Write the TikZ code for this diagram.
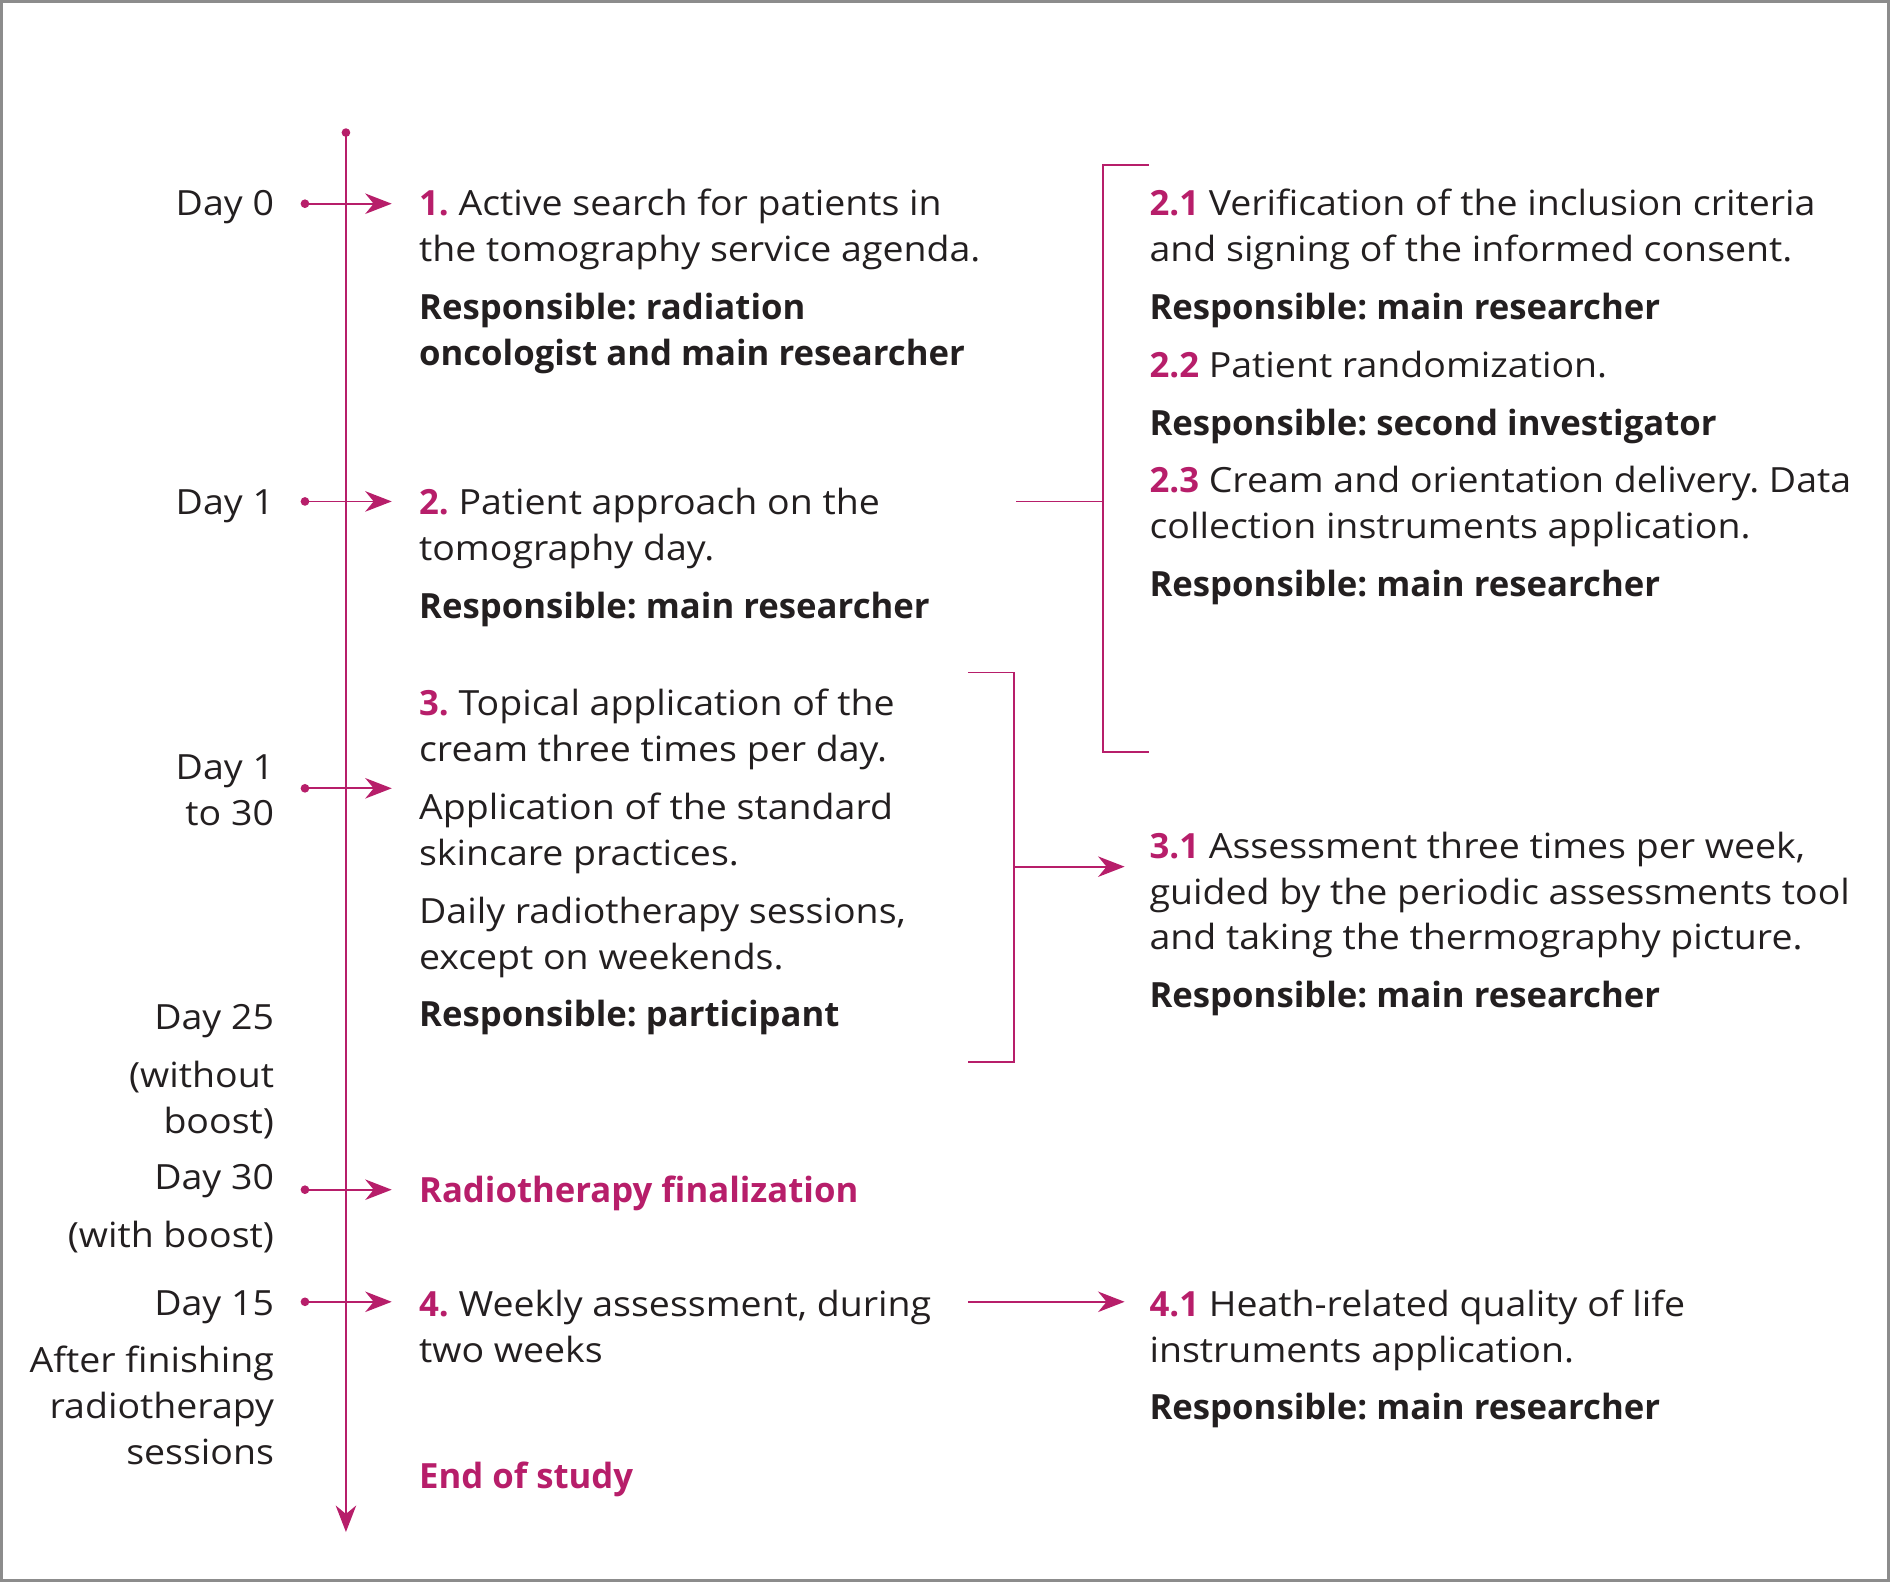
\documentclass[tikz,border=0pt]{standalone}
\usepackage{fontspec}
\setmainfont{Open Sans}[UprightFeatures={FakeStretch=1.08}]
\usetikzlibrary{arrows.meta}
\definecolor{pk}{RGB}{183,30,106}
\definecolor{ink}{RGB}{35,31,32}
\definecolor{framegray}{RGB}{140,140,140}
\frenchspacing
\newcommand\lnx[1]{\hbox{#1}}
\newcommand\gapx{\vskip5pt}
\newcommand\blk[1]{\vtop{\baselineskip=19pt\lineskiplimit=-20pt\lineskip=0pt #1}}
\newcommand\rblk[1]{\vtop{\baselineskip=19pt\lineskiplimit=-20pt\lineskip=0pt\halign{\hfil##\cr#1\crcr}}}
\newcommand\nm[1]{\textcolor{pk}{\textbf{#1}}}
\newcommand\rsp[1]{\textbf{Responsible: #1}}
\begin{document}
\begin{tikzpicture}[x=0.5pt,y=-0.5pt,line width=0.7pt,
  tip/.style={-{Stealth[length=11pt,width=8.5pt,inset=3.5pt]}},
  txt/.style={anchor=base west,inner sep=0pt,text=ink,font=\fontsize{14.4}{19}\selectfont\frenchspacing},
  lbl/.style={anchor=base east,inner sep=0pt,text=ink,font=\fontsize{14.4}{19}\selectfont\frenchspacing},
  dot/.style={circle,fill=pk,inner sep=0pt,minimum size=3.6pt},
  conn/.style={draw=pk}]
\useasboundingbox (0,0) rectangle (1568,1312);
\draw[framegray,line width=1.1pt] (1,1) rectangle (1567,1311);
% timeline
\node[dot] (top) at (287,110) {};
\coordinate (bot) at (287,1271);
\draw[conn,pk,tip] (top.center) -- (bot);
% side arrows
\foreach \nme/\yy in {a0/169,a1/416,a2/654,a3/987,a4/1080}{
  \node[dot] (d\nme) at (253,\yy) {};
  \coordinate (t\nme) at (325,\yy);
  \draw[conn,pk,tip] (d\nme.center) -- (t\nme);
}
% left labels
\node[lbl] (l0) at (228,179) {Day 0};
\node[lbl] (l1) at (228,427) {Day 1};
\node[lbl] (l130) at (228,647) {\rblk{Day 1\cr to 30}};
\node[lbl] (l25) at (228,854) {\rblk{Day 25\cr\noalign{\vskip5pt}(without\cr boost)}};
\node[lbl] (l30) at (228,987) {\rblk{Day 30\cr\noalign{\vskip5pt}(with boost)}};
\node[lbl] (l15) at (228,1091) {\rblk{Day 15\cr\noalign{\vskip5pt}After finishing\cr radiotherapy\cr sessions}};
% middle column
\node[txt] (n1) at (347,179) {\blk{\lnx{\nm{1.} Active search for patients in}\lnx{the tomography service agenda.}\gapx\lnx{\rsp{radiation}}\lnx{\textbf{oncologist and main researcher}}}};
\node[txt] (n2) at (347,427) {\blk{\lnx{\nm{2.} Patient approach on the}\lnx{tomography day.}\gapx\lnx{\rsp{main researcher}}}};
\node[txt] (n3) at (347,594) {\blk{\lnx{\nm{3.} Topical application of the}\lnx{cream three times per day.}\gapx\lnx{Application of the standard}\lnx{skincare practices.}\gapx\lnx{Daily radiotherapy sessions,}\lnx{except on weekends.}\gapx\lnx{\rsp{participant}}}};
\node[txt] (nrf) at (347,998) {\nm{Radiotherapy finalization}};
\node[txt] (n4) at (347,1092) {\blk{\lnx{\nm{4.} Weekly assessment, during}\lnx{two weeks}}};
\node[txt] (nend) at (347,1235) {\nm{End of study}};
% right column
\node[txt] (n21) at (953,179) {\blk{\lnx{\nm{2.1} Verification of the inclusion criteria}\lnx{and signing of the informed consent.}\gapx\lnx{\rsp{main researcher}}\gapx\lnx{\nm{2.2} Patient randomization.}\gapx\lnx{\rsp{second investigator}}\gapx\lnx{\nm{2.3} Cream and orientation delivery. Data}\lnx{collection instruments application.}\gapx\lnx{\rsp{main researcher}}}};
\node[txt] (n31) at (953,712) {\blk{\lnx{\nm{3.1} Assessment three times per week,}\lnx{guided by the periodic assessments tool}\lnx{and taking the thermography picture.}\gapx\lnx{\rsp{main researcher}}}};
\node[txt] (n41) at (953,1092) {\blk{\lnx{\nm{4.1} Heath-related quality of life}\lnx{instruments application.}\gapx\lnx{\rsp{main researcher}}}};
% bracket 1
\coordinate (b1a) at (953,137);
\coordinate (b1b) at (915,137);
\coordinate (b1c) at (915,624);
\coordinate (b1d) at (953,624);
\coordinate (b1m) at (843,416);
\draw[conn] (b1a) -- (b1b) -- (b1c) -- (b1d);
\draw[conn] (b1m) -- (b1m -| b1b);
% bracket 2
\coordinate (b2a) at (803,558);
\coordinate (b2b) at (841,558);
\coordinate (b2c) at (841,881);
\coordinate (b2d) at (803,881);
\coordinate (b2m) at (841,719);
\coordinate (b2t) at (933,719);
\draw[conn] (b2a) -- (b2b) -- (b2c) -- (b2d);
\draw[conn,tip] (b2m) -- (b2t);
% arrow 4
\coordinate (c4a) at (803,1080);
\coordinate (c4b) at (933,1080);
\draw[conn,tip] (c4a) -- (c4b);
\end{tikzpicture}
\end{document}
